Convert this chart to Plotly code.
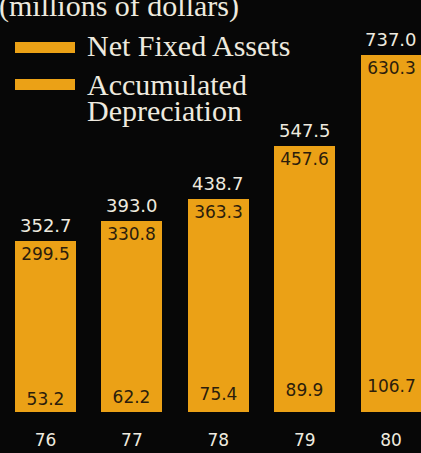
import plotly.graph_objects as go

# Fixed assets, millions of dollars
years = ["76", "77", "78", "79", "80"]
net_fixed_assets = [299.5, 330.8, 363.3, 457.6, 630.3]
accumulated_depreciation = [53.2, 62.2, 75.4, 89.9, 106.7]
totals = [352.7, 393.0, 438.7, 547.5, 737.0]
series_names = ["Net Fixed Assets", "Accumulated Depreciation"]
unit_title = "(millions of dollars)"

ORANGE = "#EBA116"
BG = "#070707"
LIGHT = "#EEEADF"
DARK = "#2B1D0C"

xpos = list(range(len(years)))

fig = go.Figure()

fig.add_trace(go.Bar(
    x=xpos, y=accumulated_depreciation, name=series_names[1],
    marker=dict(color=ORANGE, line=dict(width=0)), width=0.706,
    text=[f"{v:.1f}" for v in accumulated_depreciation],
    textposition="inside", insidetextanchor="middle",
    textfont=dict(family="DejaVu Sans", size=17, color=DARK),
    textangle=0,
))
fig.add_trace(go.Bar(
    x=xpos, y=net_fixed_assets, name=series_names[0],
    marker=dict(color=ORANGE, line=dict(width=0)), width=0.706,
    text=[f"{v:.1f}" for v in net_fixed_assets],
    textposition="inside", insidetextanchor="end",
    textfont=dict(family="DejaVu Sans", size=17, color=DARK),
    textangle=0,
))

W, H = 421, 453
B = 41
plot_h = H - B

def py(pix):
    """Pixel row (from top) to paper y."""
    return (plot_h - pix) / plot_h

shapes = []
annotations = []

# Totals above each bar
for x, t in zip(xpos, totals):
    annotations.append(dict(x=x, y=t, xref="x", yref="y", text=f"{t:.1f}",
                            showarrow=False, yanchor="bottom", yshift=3,
                            font=dict(family="DejaVu Sans", size=18, color=LIGHT)))

# Legend swatches and labels
for top, bottom in [(42, 53), (79, 90)]:
    shapes.append(dict(type="rect", xref="paper", yref="paper",
                       x0=15 / W, x1=75 / W, y0=py(bottom), y1=py(top),
                       fillcolor=ORANGE, line=dict(width=0), layer="above"))

serif = "Liberation Serif"
annotations.append(dict(text=unit_title, xref="paper", yref="paper",
                        x=-3 / W, y=py(6), xanchor="left", yanchor="middle",
                        showarrow=False, font=dict(family=serif, size=30, color=LIGHT)))
annotations.append(dict(text=series_names[0], xref="paper", yref="paper",
                        x=85 / W, y=py(46), xanchor="left", yanchor="middle",
                        showarrow=False, font=dict(family=serif, size=30, color=LIGHT)))
acc, dep = series_names[1].split(" ")
annotations.append(dict(text=acc, xref="paper", yref="paper",
                        x=85 / W, y=py(84), xanchor="left", yanchor="middle",
                        showarrow=False, font=dict(family=serif, size=30, color=LIGHT)))
annotations.append(dict(text=dep, xref="paper", yref="paper",
                        x=85 / W, y=py(110), xanchor="left", yanchor="middle",
                        showarrow=False, font=dict(family=serif, size=30, color=LIGHT)))

fig.update_layout(
    width=W, height=H,
    margin=dict(l=0, r=0, t=0, b=B),
    paper_bgcolor=BG, plot_bgcolor=BG,
    barmode="stack", bargap=0,
    showlegend=False,
    xaxis=dict(range=[-0.527, 4.346], tickvals=xpos, ticktext=years,
               showgrid=False, zeroline=False, showline=False, ticks="",
               ticklabelstandoff=16,
               tickfont=dict(family="DejaVu Sans", size=17, color=LIGHT)),
    yaxis=dict(range=[0, plot_h / 0.485], visible=False, showgrid=False),
    shapes=shapes, annotations=annotations,
)

fig.write_html("out.html")
